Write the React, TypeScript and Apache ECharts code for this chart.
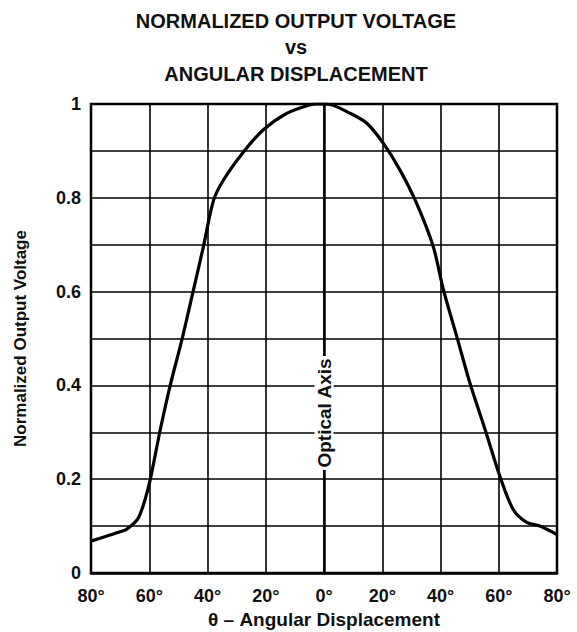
import React, { useEffect, useRef } from "react";
import * as echarts from "echarts";

const angles = [-80, -75, -70, -67.6, -63.7, -60.2, -56.2, -52.8, -48.8, -44.8, -41.4, -37.9, -34.5, -27.6, -20.8, -12.8, -5, -2, 2, 9, 14.7, 20.4, 26.1, 31.8, 37.5, 41, 45.6, 50.1, 55.3, 60.4, 65, 69.6, 74.1, 80];
const voltages = [0.068, 0.078, 0.088, 0.094, 0.118, 0.185, 0.306, 0.4, 0.497, 0.604, 0.696, 0.795, 0.838, 0.898, 0.945, 0.98, 0.998, 1.0, 0.999, 0.98, 0.959, 0.916, 0.859, 0.788, 0.696, 0.604, 0.504, 0.405, 0.306, 0.206, 0.135, 0.108, 0.1, 0.082];
const titleLines = ["NORMALIZED OUTPUT VOLTAGE", "vs", "ANGULAR DISPLACEMENT"];
const xTicks = { min: -80, max: 80, interval: 20 };
const yTicks = { min: 0, max: 1, interval: 0.1 };

const FONT = "'Liberation Sans', Arial, Helvetica, sans-serif";
const TITLE_Y = [20.5, 47, 73.5];

export default function App() {
  const ref = useRef<HTMLDivElement>(null);
  useEffect(() => {
    if (!ref.current) return;
    const chart = echarts.init(ref.current, null, { renderer: "svg" });
    const data = angles.map((a, i) => [a, voltages[i]]);
    chart.setOption({
      animation: false,
      backgroundColor: "#ffffff",
      textStyle: { fontFamily: FONT },
      grid: {
        left: 91,
        right: 20,
        top: 104,
        bottom: 59,
        outerBoundsMode: "none",
        containLabel: false,
        show: true,
        borderColor: "#000",
        borderWidth: 2.5,
        backgroundColor: "transparent",
      },
      graphic: [
        ...titleLines.map((t, i) => ({
          type: "text",
          x: 296,
          y: TITLE_Y[i],
          style: { text: t, font: `bold 20px ${FONT}`, fill: "#111", textAlign: "center", textVerticalAlign: "middle" },
        })),
        {
          type: "text",
          x: 324,
          y: 413,
          rotation: Math.PI / 2,
          style: {
            text: "Optical Axis",
            font: `bold 19px ${FONT}`,
            fill: "#111",
            textAlign: "center",
            textVerticalAlign: "middle",
            backgroundColor: "#fff",
            padding: [0, 2],
          },
          z: 100,
        },
      ],
      xAxis: {
        type: "value",
        min: xTicks.min,
        max: xTicks.max,
        interval: xTicks.interval,
        name: "θ – Angular Displacement",
        nameLocation: "middle",
        nameGap: 37,
        nameTextStyle: { fontFamily: FONT, fontWeight: "bold", fontSize: 19, color: "#111" },
        axisLine: { show: true, lineStyle: { color: "#000", width: 2.5 } },
        axisTick: { show: false },
        splitLine: { show: true, lineStyle: { color: "#000", width: 1.6 } },
        axisLabel: {
          margin: 14,
          fontFamily: FONT,
          fontWeight: "bold",
          fontSize: 18,
          color: "#111",
          formatter: (v: number) => `${Math.abs(v)}°`,
        },
      },
      yAxis: {
        type: "value",
        min: yTicks.min,
        max: yTicks.max,
        interval: yTicks.interval,
        name: "Normalized Output Voltage",
        nameLocation: "middle",
        nameGap: 62,
        nameTextStyle: { fontFamily: FONT, fontWeight: "bold", fontSize: 17, color: "#111" },
        axisLine: { show: true, lineStyle: { color: "#000", width: 2.5 } },
        axisTick: { show: false },
        splitLine: { show: true, lineStyle: { color: "#000", width: 1.6 } },
        axisLabel: {
          margin: 10,
          fontFamily: FONT,
          fontWeight: "bold",
          fontSize: 18,
          color: "#111",
          formatter: (v: number) => {
            const k = Math.round(v * 10);
            if (k % 2 !== 0) return "";
            if (k === 0) return "0";
            if (k === 10) return "1";
            return (k / 10).toFixed(1);
          },
        },
      },
      series: [
        {
          type: "line",
          data,
          smooth: 0.3,
          symbol: "none",
          lineStyle: { color: "#000", width: 3.2 },
          z: 5,
        },
      ],
    });
    return () => chart.dispose();
  }, []);
  return <div ref={ref} style={{ width: 577, height: 632, position: "absolute", left: 0, top: 0 }} />;
}
